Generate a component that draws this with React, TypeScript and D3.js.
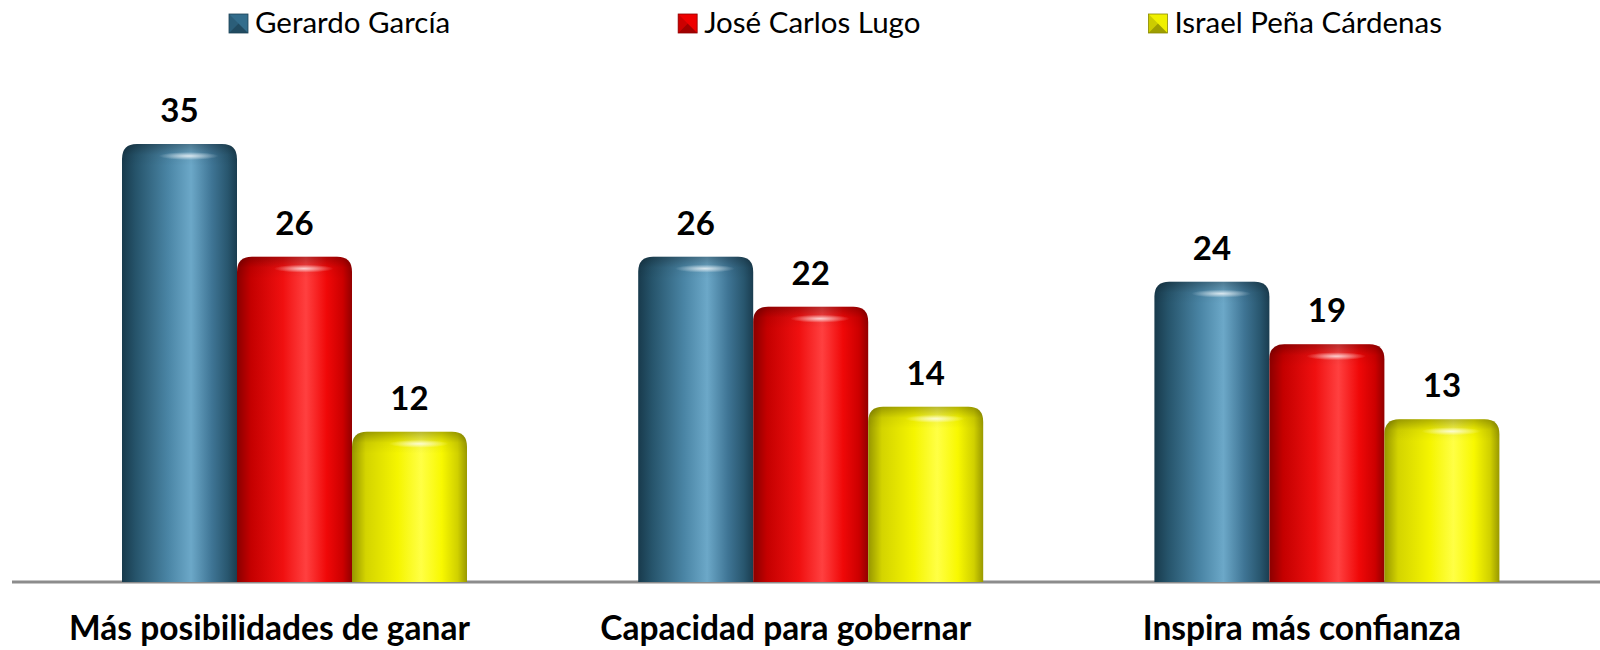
import React from "react";
import * as d3 from "d3";

const categories = ["Más posibilidades de ganar", "Capacidad para gobernar", "Inspira más confianza"];
const seriesNames = ["Gerardo García", "José Carlos Lugo", "Israel Peña Cárdenas"];
const gerardo = [35, 26, 24];
const jose = [26, 22, 19];
const israel = [12, 14, 13];
const seriesValues = [gerardo, jose, israel];

const W = 1600;
const H = 650;
const FONT = "Lato, 'Open Sans', sans-serif";

const palettes = [
  { id: "gBlue", stops: [["0%", "#183a4c"], ["12%", "#26546b"], ["40%", "#4a85a5"], ["60%", "#6ca8c8"], ["78%", "#3f7595"], ["92%", "#28566e"], ["100%", "#1a3d50"]], base: "#336d8c", dark: "#1d4256" },
  { id: "gRed", stops: [["0%", "#8a0000"], ["12%", "#c40000"], ["40%", "#f01010"], ["60%", "#ff4040"], ["78%", "#f00808"], ["92%", "#cc0000"], ["100%", "#920000"]], base: "#ee0000", dark: "#8e0000" },
  { id: "gYel", stops: [["0%", "#969600"], ["12%", "#d4d400"], ["40%", "#f5f500"], ["60%", "#ffff45"], ["78%", "#f8f800"], ["92%", "#d0d000"], ["100%", "#999900"]], base: "#f0f000", dark: "#8a8a00" },
];

function measure(text: string, font: string): number {
  const c = document.createElement("canvas");
  const ctx = c.getContext("2d")!;
  ctx.font = font;
  return ctx.measureText(text).width;
}

function topRounded(x: number, y: number, w: number, h: number, r: number): string {
  const rr = Math.min(r, h, w / 2);
  return `M${x},${y + h}V${y + rr}Q${x},${y} ${x + rr},${y}H${x + w - rr}Q${x + w},${y} ${x + w},${y + rr}V${y + h}Z`;
}

export default function App() {
  const baseline = 582;
  const x0 = d3.scaleBand<string>().domain(categories).range([36.4, 1585]).padding(0);
  const groupW = 345;
  const x1 = d3.scaleBand<string>().domain(seriesNames).range([0, groupW]).padding(0);
  const y = d3.scaleLinear().domain([0, 35]).range([baseline, 144]);

  const legendSize = 29.5;
  const legendFont = `${legendSize}px ${FONT}`;
  const markerW = 19;
  const markerGap = 7;
  const itemGap = 228;
  let lx = 229;
  const legendItems = seriesNames.map((name, i) => {
    const tw = measure(name, legendFont);
    const item = { name, i, x: lx, tw };
    lx += markerW + markerGap + tw + itemGap;
    return item;
  });

  return (
    <svg width={W} height={H} style={{ position: "absolute", left: 0, top: 0, background: "#fff" }}>
      <defs>
        {palettes.map((p) => (
          <linearGradient key={p.id} id={p.id} x1="0" y1="0" x2="1" y2="0">
            {p.stops.map(([o, c]) => (
              <stop key={o} offset={o} stopColor={c} />
            ))}
          </linearGradient>
        ))}
        <linearGradient id="capShade" x1="0" y1="0" x2="0" y2="1">
          <stop offset="0" stopColor="#000" stopOpacity="0.28" />
          <stop offset="0.5" stopColor="#000" stopOpacity="0.05" />
          <stop offset="1" stopColor="#000" stopOpacity="0" />
        </linearGradient>
        <radialGradient id="hl" cx="0.5" cy="0.5" r="0.5">
          <stop offset="0" stopColor="#fff" stopOpacity="0.75" />
          <stop offset="1" stopColor="#fff" stopOpacity="0" />
        </radialGradient>
      </defs>

      <line x1={12} x2={1600} y1={baseline} y2={baseline} stroke="#8c8c8c" strokeWidth={3} />

      {categories.map((cat, ci) => {
        const gx = (x0(cat) as number) + (x0.bandwidth() - groupW) / 2;
        return (
          <g key={cat}>
            {seriesNames.map((s, si) => {
              const v = seriesValues[si][ci];
              const bx = gx + (x1(s) as number);
              const bw = x1.bandwidth();
              const by = y(v);
              const bh = baseline - by;
              const p = palettes[si];
              return (
                <g key={s}>
                  <path d={topRounded(bx, by, bw, bh, 15)} fill={`url(#${p.id})`} />
                  <path d={topRounded(bx, by, bw, Math.min(bh, 22), 15)} fill="url(#capShade)" />
                  <ellipse cx={bx + bw * 0.58} cy={by + 12} rx={bw * 0.26} ry={4} fill="url(#hl)" />
                  <text
                    x={bx + bw / 2}
                    y={by - 22}
                    textAnchor="middle"
                    fontFamily={FONT}
                    fontWeight={700}
                    fontSize={33}
                    fill="#000"
                  >
                    {v}
                  </text>
                </g>
              );
            })}
            <text
              x={(x0(cat) as number) + x0.bandwidth() / 2 - 25}
              y={640}
              textAnchor="middle"
              fontFamily={FONT}
              fontWeight={700}
              fontSize={33.5}
              fill="#000"
            >
              {cat}
            </text>
          </g>
        );
      })}

      {legendItems.map((it) => {
        const p = palettes[it.i];
        const mx = it.x;
        const my = 14;
        return (
          <g key={it.name}>
            <rect x={mx} y={my} width={markerW} height={markerW} fill={p.base} />
            <path d={`M${mx},${my + markerW}L${mx + markerW / 2},${my + markerW / 2}L${mx + markerW},${my + markerW}Z`} fill={p.dark} opacity={0.8} />
            <path d={`M${mx},${my}L${mx + markerW / 2},${my + markerW / 2}L${mx},${my + markerW}Z`} fill={p.dark} opacity={0.35} />
            <rect x={mx} y={my} width={markerW} height={markerW} fill="none" stroke={p.dark} strokeWidth={0.8} />
            <text x={mx + markerW + markerGap} y={33} fontFamily={FONT} fontSize={legendSize} fill="#000">
              {it.name}
            </text>
          </g>
        );
      })}
    </svg>
  );
}
